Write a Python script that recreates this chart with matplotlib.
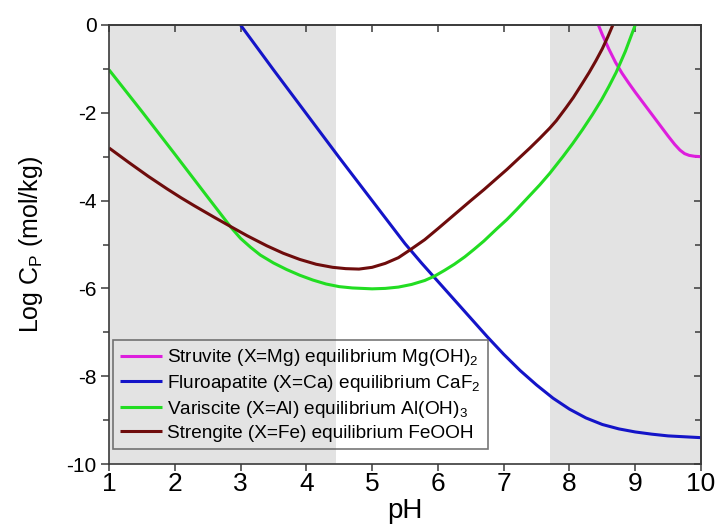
import matplotlib
matplotlib.use("Agg")
import matplotlib.pyplot as plt
from matplotlib.ticker import MultipleLocator

# ---------------- data ----------------
struvite_ph = [8.44, 8.5, 8.6, 8.7, 8.8, 8.9, 9.0, 9.1, 9.2, 9.3, 9.4, 9.5,
               9.6, 9.68, 9.75, 9.82, 9.9, 10.0]
struvite_log = [0.0, -0.22, -0.55, -0.85, -1.10, -1.32, -1.53, -1.73, -1.93, -2.13, -2.33, -2.53,
                -2.72, -2.85, -2.93, -2.97, -2.99, -3.0]

fluoro_ph = [3.0, 3.5, 4.0, 4.5, 5.0, 5.5, 5.75, 6.0, 6.25, 6.5, 6.75, 7.0, 7.25, 7.5, 7.75,
             8.0, 8.25, 8.5, 8.75, 9.0, 9.25, 9.5, 9.75, 10.0]
fluoro_log = [0.0, -1.02, -2.02, -3.02, -4.0, -4.98, -5.42, -5.84, -6.26, -6.68, -7.10, -7.50,
              -7.87, -8.20, -8.50, -8.75, -8.95, -9.10, -9.20, -9.27, -9.32, -9.36, -9.38, -9.40]

varis_ph = [1.0, 1.5, 2.0, 2.5, 2.86, 3.0, 3.15, 3.3, 3.5, 3.7, 3.9, 4.1, 4.3, 4.5, 4.7, 5.0,
            5.2, 5.4, 5.6, 5.8, 5.95, 6.1, 6.25, 6.41, 6.55, 6.7, 6.89, 7.05, 7.2, 7.4, 7.55,
            7.7, 7.9, 8.05, 8.2, 8.35, 8.49, 8.6, 8.71, 8.85, 9.0]
varis_log = [-1.02, -1.97, -2.94, -3.92, -4.62, -4.86, -5.06, -5.24, -5.42, -5.57, -5.70, -5.81,
             -5.90, -5.96, -5.99, -6.01, -6.0, -5.97, -5.91, -5.82, -5.72, -5.59, -5.45, -5.28,
             -5.11, -4.92, -4.65, -4.43, -4.20, -3.88, -3.64, -3.38, -3.00, -2.70, -2.38, -2.04,
             -1.70, -1.40, -1.08, -0.60, 0.0]

streng_ph = [1.0, 1.3, 1.6, 1.88, 2.1, 2.3, 2.6, 2.86, 3.1, 3.4, 3.65, 3.9, 4.15, 4.4, 4.6,
             4.8, 5.0, 5.2, 5.4, 5.57, 5.8, 6.0, 6.25, 6.5, 6.7, 6.89, 7.05, 7.2, 7.4, 7.55,
             7.7, 7.8, 7.95, 8.06, 8.2, 8.3, 8.4, 8.5, 8.58, 8.66]
streng_log = [-2.80, -3.13, -3.45, -3.73, -3.94, -4.12, -4.38, -4.60, -4.80, -5.03, -5.20, -5.34,
              -5.45, -5.52, -5.55, -5.56, -5.52, -5.43, -5.30, -5.13, -4.89, -4.64, -4.32, -4.00,
              -3.75, -3.50, -3.29, -3.08, -2.80, -2.58, -2.35, -2.18, -1.88, -1.65, -1.32, -1.08,
              -0.82, -0.54, -0.28, 0.0]

labels = [
    "Struvite (X=Mg) equilibrium Mg(OH)$_2$",
    "Fluroapatite (X=Ca) equilibrium CaF$_2$",
    "Variscite (X=Al) equilibrium Al(OH)$_3$",
    "Strengite (X=Fe) equilibrium FeOOH",
]
gray_regions = [(1.0, 4.45), (7.7, 10.0)]
x_ticks = [1, 2, 3, 4, 5, 6, 7, 8, 9, 10]
y_ticks = [0, -2, -4, -6, -8, -10]

# ---------------- style ----------------
fam = "Liberation Sans"
plt.rcParams["font.family"] = [fam, "DejaVu Sans"]
plt.rcParams["mathtext.fontset"] = "custom"
plt.rcParams["mathtext.rm"] = fam
plt.rcParams["mathtext.it"] = fam + ":italic"
plt.rcParams["mathtext.bf"] = fam + ":bold"
plt.rcParams["axes.unicode_minus"] = False

colors = ["#dd1edd", "#1414c8", "#22dd22", "#6e0c0c"]
spine_col = "#3a3a3a"

fig = plt.figure(figsize=(7.15, 5.24), dpi=100)
ax = fig.add_axes([109 / 715, 1 - 464 / 524, 592 / 715, 439 / 524])

for x0, x1 in gray_regions:
    ax.axvspan(x0, x1, color="#e3e3e3", lw=0, zorder=0)

series = [(struvite_ph, struvite_log), (fluoro_ph, fluoro_log),
          (varis_ph, varis_log), (streng_ph, streng_log)]
for (xs, ys), c, lab in zip(series, colors, labels):
    ax.plot(xs, ys, color=c, lw=2.2, label=lab, solid_capstyle="butt",
            solid_joinstyle="round", zorder=3)

ax.set_xlim(1, 10)
ax.set_ylim(-10, 0)
ax.set_xticks(x_ticks)
ax.set_yticks(y_ticks)
ax.yaxis.set_minor_locator(MultipleLocator(1))

for s in ax.spines.values():
    s.set_color(spine_col)
    s.set_linewidth(1.2)
    s.set_zorder(5)

ax.tick_params(axis="x", which="major", direction="out", length=5, width=1.1,
               color=spine_col, labelsize=19, pad=1, top=False)
ax.tick_params(axis="y", which="major", direction="out", length=6, width=1.1,
               color=spine_col, labelsize=15, pad=3, right=False)
ax.tick_params(axis="y", which="minor", direction="out", length=4, width=1.1,
               color=spine_col, right=False)

secx = ax.secondary_xaxis("top")
secx.set_xticks(x_ticks)
secx.tick_params(axis="x", direction="in", length=5, width=1.1, color=spine_col,
                 labeltop=False)
secx.spines["top"].set_color(spine_col)
secx.spines["top"].set_linewidth(1.2)

secy = ax.secondary_yaxis("right")
secy.set_yticks(y_ticks)
secy.yaxis.set_minor_locator(MultipleLocator(1))
secy.tick_params(axis="y", which="major", direction="in", length=5, width=1.1,
                 color=spine_col, labelright=False)
secy.tick_params(axis="y", which="minor", direction="in", length=4, width=1.1,
                 color=spine_col, labelright=False)
secy.spines["right"].set_color(spine_col)
secy.spines["right"].set_linewidth(1.2)

ax.set_xlabel("pH", fontsize=20, labelpad=1)
ax.set_ylabel("Log C$_\\mathrm{P}$ (mol/kg)", fontsize=18, labelpad=15)

leg = ax.legend(loc="lower left", bbox_to_anchor=(0.007, 0.034), borderaxespad=0,
                fontsize=13.7, frameon=True, fancybox=False, facecolor="none",
                edgecolor="#555555", handlelength=2.2, handletextpad=0.25,
                labelspacing=0.25, borderpad=0.38)
leg.get_frame().set_linewidth(1.2)

fig.savefig("out.png", dpi=100)
